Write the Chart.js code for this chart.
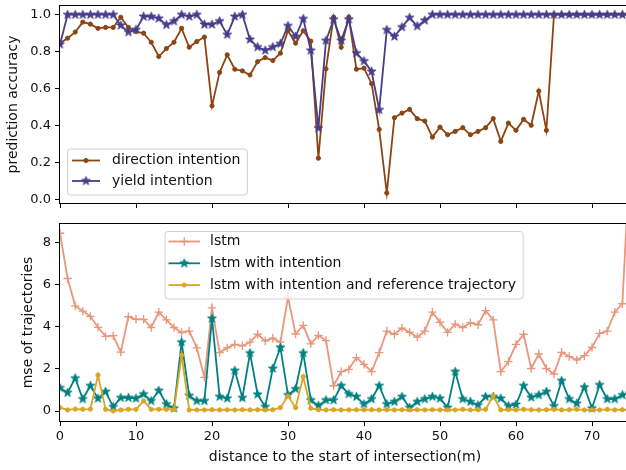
<!DOCTYPE html>
<html>
<head>
<meta charset="utf-8">
<script src="https://cdn.jsdelivr.net/npm/chart.js@4.4.1/dist/chart.umd.min.js"></script>
<style>
  html, body { margin: 0; padding: 0; background: #fff; overflow: hidden; width: 626px; height: 470px; }
  #top { position: absolute; left: 0; top: 0; }
  #bot { position: absolute; left: 0; top: 213px; }
</style>
</head>
<body>
<canvas id="top" width="660" height="213"></canvas>
<canvas id="bot" width="660" height="257"></canvas>
<script>
// distance (m) to the start of the intersection
const distance = [0,1,2,3,4,5,6,7,8,9,10,11,12,13,14,15,16,17,18,19,20,21,22,23,24,25,26,27,28,29,
  30,31,32,33,34,35,36,37,38,39,40,41,42,43,44,45,46,47,48,49,50,51,52,53,54,55,56,57,58,59,
  60,61,62,63,64,65,66,67,68,69,70,71,72,73,74,75];

const xTicks = [0, 10, 20, 30, 40, 50, 60, 70];
const accTicks = [0, 0.2, 0.4, 0.6, 0.8, 1.0];
const mseTicks = [0, 2, 4, 6, 8];

// top: prediction accuracy
const directionAcc = [0.846,0.873,0.906,0.960,0.949,0.926,0.931,0.931,0.986,0.931,
  0.909,0.900,0.851,0.774,0.817,0.851,0.926,0.824,0.855,0.879,
  0.507,0.688,0.783,0.705,0.696,0.674,0.746,0.768,0.752,0.792,
  0.913,0.846,0.913,0.857,0.224,0.707,0.987,0.824,0.987,0.705,
  0.711,0.627,0.380,0.036,0.443,0.468,0.488,0.438,0.425,0.338,
  0.392,0.351,0.369,0.389,0.351,0.369,0.389,0.438,0.315,0.414,
  0.375,0.434,0.402,0.587,0.375,1.0,1.0,1.0,1.0,1.0,
  1.0,1.0,1.0,1.0,1.0,1.0];
const yieldAcc = [0.84,1.0,1.0,1.0,1.0,1.0,1.0,1.0,0.942,0.906,
  0.919,0.99,0.99,0.98,0.945,0.965,1.0,0.99,1.0,0.947,
  0.947,0.965,0.892,0.99,1.0,0.866,0.825,0.807,0.825,0.843,
  0.94,0.882,0.978,0.807,0.387,0.86,0.975,0.86,0.975,0.792,
  0.749,0.693,0.486,0.918,0.882,0.933,0.984,0.938,0.969,1.0,
  1.0,1.0,1.0,1.0,1.0,1.0,1.0,1.0,1.0,1.0,
  1.0,1.0,1.0,1.0,1.0,1.0,1.0,1.0,1.0,1.0,
  1.0,1.0,1.0,1.0,1.0,1.0];

// bottom: mse of trajectories
const lstmMse = [8.45,6.3,5.0,4.75,4.5,3.98,3.55,3.58,2.8,4.48,
  4.36,4.36,3.97,4.7,4.33,3.97,3.73,3.8,3.0,1.6,
  4.9,2.78,3.0,3.17,3.1,3.27,3.65,3.33,3.46,3.27,
  5.4,3.66,4.07,3.19,3.59,3.35,1.2,1.87,1.98,2.54,
  2.22,1.87,2.78,3.8,3.65,3.94,3.74,3.51,3.8,4.7,
  4.22,3.74,4.13,3.97,4.2,4.1,4.77,4.33,1.87,2.35,
  3.17,3.65,2.02,2.71,2.02,1.76,2.79,2.59,2.43,2.63,
  3.02,3.69,3.8,4.7,5.1,12.2];
const intentionMse = [1.1,0.87,1.56,0.57,1.2,0.6,0.92,0.2,0.63,0.63,
  0.6,0.8,0.48,0.97,0.33,0.13,3.27,0.73,0.48,0.48,
  4.4,0.68,0.6,1.92,0.63,2.75,0.79,0.2,2.02,3.02,
  0.76,1.05,2.75,0.52,0.25,0.52,0.52,1.2,0.81,0.68,
  0.33,0.57,1.2,0.33,0.44,0.68,0.16,0.44,0.57,0.68,
  0.6,0.16,1.87,0.57,0.44,0.28,0.68,0.68,0.6,0.24,
  0.31,1.2,0.65,0.76,0.92,0.24,1.44,0.57,0.36,1.13,
  0.13,1.24,0.57,0.57,0.76,0.85];
const referenceMse = [0.16,0.05,0.09,0.08,0.09,1.71,0.08,0.0,0.05,0.08,
  0.08,0.48,0.08,0.08,0.08,0.08,2.65,0.05,0.05,0.05,
  0.06,0.05,0.06,0.05,0.06,0.05,0.06,0.05,0.06,0.16,
  0.71,0.16,1.63,0.13,0.06,0.05,0.06,0.05,0.05,0.06,
  0.05,0.06,0.05,0.06,0.05,0.06,0.05,0.06,0.05,0.06,
  0.05,0.06,0.05,0.08,0.05,0.06,0.08,0.72,0.05,0.06,
  0.05,0.08,0.06,0.05,0.06,0.08,0.05,0.06,0.08,0.05,
  0.06,0.05,0.08,0.05,0.06,0.05];

Chart.defaults.font.family = '"DejaVu Sans", sans-serif';
Chart.defaults.font.size = 13;
Chart.defaults.color = '#111';

// filled 5-point star like matplotlib '*'
function starMarker(color, r) {
  const c = document.createElement('canvas');
  const s = Math.ceil(r * 2 + 3);
  c.width = c.height = s;
  const g = c.getContext('2d');
  g.beginPath();
  for (let k = 0; k < 10; k++) {
    const rr = k % 2 ? r * 0.382 : r;
    const a = -Math.PI / 2 + k * Math.PI / 5;
    g.lineTo(s / 2 + rr * Math.cos(a), s / 2 + rr * Math.sin(a));
  }
  g.closePath();
  g.fillStyle = color; g.fill();
  g.strokeStyle = color; g.lineWidth = 1; g.stroke();
  return c;
}

function series(label, values, color, marker, order) {
  const ds = {
    label: label,
    data: distance.map((d, i) => ({x: d, y: values[i]})),
    borderColor: color,
    backgroundColor: color,
    borderWidth: 1.8,
    pointBorderColor: color,
    pointBackgroundColor: color,
    order: order
  };
  if (marker === 'star') {
    ds.pointStyle = starMarker(color, 4.6);
  } else if (marker === 'cross') {
    ds.pointStyle = 'cross'; ds.pointRadius = 4.2; ds.pointBorderWidth = 1.3;
  } else {
    ds.pointStyle = 'circle'; ds.pointRadius = 2.1; ds.pointBorderWidth = 1;
  }
  return ds;
}

function drawMarker(ctx, ds, x, y) {
  const st = ds.pointStyle;
  ctx.save();
  ctx.fillStyle = ds.pointBackgroundColor;
  ctx.strokeStyle = ds.pointBorderColor;
  if (st instanceof HTMLCanvasElement) {
    ctx.drawImage(st, x - st.width / 2, y - st.height / 2);
  } else if (st === 'cross') {
    const r = ds.pointRadius;
    ctx.lineWidth = ds.pointBorderWidth;
    ctx.beginPath();
    ctx.moveTo(x - r, y); ctx.lineTo(x + r, y);
    ctx.moveTo(x, y - r); ctx.lineTo(x, y + r);
    ctx.stroke();
  } else {
    ctx.lineWidth = ds.pointBorderWidth;
    ctx.beginPath();
    ctx.arc(x, y, ds.pointRadius, 0, Math.PI * 2);
    ctx.fill(); ctx.stroke();
  }
  ctx.restore();
}

// box around the axes plus a matplotlib-like legend inside it
const framePlugin = {
  id: 'frameLegend',
  afterDatasetsDraw(chart, args, opts) {
    const ctx = chart.ctx, a = chart.chartArea;
    ctx.save();
    ctx.strokeStyle = '#000';
    ctx.lineWidth = 1;
    ctx.strokeRect(Math.round(a.left) - 0.5, Math.round(a.top) - 0.5,
      Math.round(a.right - a.left) + 1, Math.round(a.bottom - a.top) + 1);

    const sets = chart.data.datasets;
    ctx.font = '14px "DejaVu Sans"';
    const tw = Math.max(...sets.map(d => ctx.measureText(d.label).width));
    const w = opts.textX - opts.x + tw + 7;
    const h = opts.h, x = opts.x, y = opts.y, r = 3;
    ctx.beginPath();
    ctx.moveTo(x + r, y);
    ctx.arcTo(x + w, y, x + w, y + h, r);
    ctx.arcTo(x + w, y + h, x, y + h, r);
    ctx.arcTo(x, y + h, x, y, r);
    ctx.arcTo(x, y, x + w, y, r);
    ctx.closePath();
    ctx.fillStyle = 'rgba(255,255,255,0.8)';
    ctx.fill();
    ctx.strokeStyle = '#d0d0d0';
    ctx.stroke();

    sets.forEach((d, i) => {
      const ry = opts.rowY + i * opts.rowGap;
      ctx.strokeStyle = d.borderColor;
      ctx.lineWidth = d.borderWidth;
      ctx.beginPath();
      ctx.moveTo(opts.lineX0, ry); ctx.lineTo(opts.lineX1, ry);
      ctx.stroke();
      drawMarker(ctx, d, (opts.lineX0 + opts.lineX1) / 2, ry);
      ctx.fillStyle = '#111';
      ctx.textBaseline = 'middle';
      ctx.textAlign = 'left';
      ctx.fillText(d.label, opts.textX, ry);
    });
    ctx.restore();
  }
};

function xScale(showLabels, height, title) {
  return {
    type: 'linear', min: 0, max: 75,
    afterBuildTicks: s => { s.ticks = xTicks.map(v => ({value: v})); },
    afterFit: s => { s.height = height; s.paddingLeft = 0; s.paddingRight = 0; },
    grid: { drawOnChartArea: false, drawTicks: true, tickLength: 5, color: '#000' },
    border: { display: false },
    ticks: { display: showLabels, padding: 3, maxRotation: 0 },
    title: title
  };
}

new Chart(document.getElementById('top'), {
  type: 'line',
  data: {
    datasets: [
      series('direction intention', directionAcc, '#8B4513', 'dot', 2),
      series('yield intention', yieldAcc, '#483D8B', 'star', 1)
    ]
  },
  options: {
    responsive: false,
    animation: false,
    layout: { padding: { top: 6, right: 30, left: 0, bottom: 0 } },
    plugins: {
      legend: { display: false },
      tooltip: { enabled: false },
      frameLegend: { x: 67.5, y: 149, h: 46, lineX0: 72, lineX1: 100, textX: 112, rowY: 160.5, rowGap: 20.5 }
    },
    scales: {
      x: xScale(false, 10, { display: false }),
      y: {
        min: -0.018, max: 1.047,
        afterBuildTicks: s => { s.ticks = accTicks.map(v => ({value: v})); },
        afterFit: s => { s.width = 60; s.paddingTop = 0; s.paddingBottom = 0; },
        grid: { drawOnChartArea: false, drawTicks: true, tickLength: 5, color: '#000' },
        border: { display: false },
        ticks: { padding: 4, callback: v => v.toFixed(1) },
        title: { display: true, text: 'prediction accuracy', font: { size: 14 }, padding: { top: 5, bottom: 0 } }
      }
    }
  },
  plugins: [framePlugin]
});

new Chart(document.getElementById('bot'), {
  type: 'line',
  data: {
    datasets: [
      series('lstm', lstmMse, '#E9967A', 'cross', 3),
      series('lstm with intention', intentionMse, '#008080', 'star', 2),
      series('lstm with intention and reference trajectory', referenceMse, '#DAA520', 'dot', 1)
    ]
  },
  options: {
    responsive: false,
    animation: false,
    layout: { padding: { top: 11, right: 30, left: 0, bottom: 0 } },
    plugins: {
      legend: { display: false },
      tooltip: { enabled: false },
      frameLegend: { x: 165, y: 18.5, h: 67.5, lineX0: 168.5, lineX1: 200, textX: 210, rowY: 28.5, rowGap: 21.8 }
    },
    scales: {
      x: xScale(true, 49, { display: true, text: 'distance to the start of intersection(m)', font: { size: 14 }, padding: { top: 0, bottom: 4.5 } }),
      y: {
        min: -0.475, max: 8.89,
        afterBuildTicks: s => { s.ticks = mseTicks.map(v => ({value: v})); },
        afterFit: s => { s.width = 60; s.paddingTop = 0; s.paddingBottom = 0; },
        grid: { drawOnChartArea: false, drawTicks: true, tickLength: 5, color: '#000' },
        border: { display: false },
        ticks: { padding: 4 },
        title: { display: true, text: 'mse of trajectories', font: { size: 14 }, padding: { top: 20, bottom: 0 } }
      }
    }
  },
  plugins: [framePlugin]
});
</script>
</body>
</html>
